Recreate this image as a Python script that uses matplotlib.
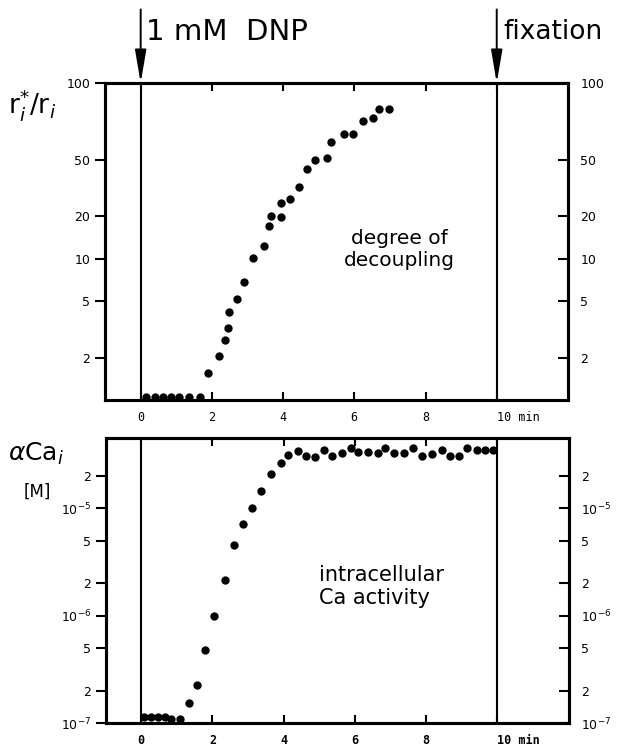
import numpy as np
import matplotlib
matplotlib.use("Agg")
import matplotlib.pyplot as plt
from matplotlib.ticker import FixedLocator, FixedFormatter

# ---------------- data ----------------
# degree of decoupling (ri*/ri) vs time (min)
t_dec = [0.16, 0.39, 0.62, 0.85, 1.09, 1.37, 1.68, 1.88, 2.21, 2.37, 2.44, 2.47,
         2.70, 2.90, 3.16, 3.47, 3.60, 3.67, 3.93, 3.95, 4.19, 4.46, 4.66, 4.91,
         5.22, 5.35, 5.70, 5.96, 6.24, 6.52, 6.69, 6.97]
r_dec = [1.05, 1.05, 1.05, 1.05, 1.05, 1.05, 1.05, 1.56, 2.05, 2.66, 3.25, 4.2,
         5.2, 6.8, 10.1, 12.3, 17.0, 20.0, 19.8, 24.8, 26.4, 32.0, 43.0, 50.0,
         51.0, 58.7, 63.0, 63.0, 71.0, 73.0, 79.0, 79.0]

# intracellular Ca activity (M) vs time (min)
t_ca = [0.09, 0.28, 0.47, 0.66, 0.83, 1.08, 1.33, 1.57, 1.79, 2.04, 2.35, 2.61,
        2.86, 3.12, 3.36, 3.63, 3.91, 4.13, 4.40, 4.64, 4.88, 5.13, 5.37, 5.63,
        5.88, 6.10, 6.36, 6.66, 6.85, 7.11, 7.38, 7.62, 7.88, 8.16, 8.44, 8.67,
        8.93, 9.14, 9.42, 9.65, 9.87]
ca = [1.14e-7, 1.14e-7, 1.14e-7, 1.14e-7, 1.1e-7, 1.1e-7, 1.54e-7, 2.25e-7,
      4.8e-7, 9.9e-7, 2.14e-6, 4.55e-6, 7.1e-6, 1.0e-5, 1.46e-5, 2.06e-5,
      2.63e-5, 3.10e-5, 3.43e-5, 3.03e-5, 2.99e-5, 3.5e-5, 3.08e-5, 3.26e-5,
      3.63e-5, 3.3e-5, 3.3e-5, 3.26e-5, 3.63e-5, 3.26e-5, 3.26e-5, 3.63e-5,
      3.08e-5, 3.2e-5, 3.5e-5, 3.08e-5, 3.08e-5, 3.6e-5, 3.5e-5, 3.5e-5, 3.5e-5]

x_ticks = [0, 2, 4, 6, 8, 10]
x_ticklabels = ["0", "2", "4", "6", "8", "10 min"]
top_yticks = [2, 5, 10, 20, 50, 100]
top_yticklabels = ["2", "5", "10", "20", "50", "100"]
bot_yticks = [1e-7, 2e-7, 5e-7, 1e-6, 2e-6, 5e-6, 1e-5, 2e-5]
bot_yticklabels = [r"$10^{-7}$", "2", "5", r"$10^{-6}$", "2", "5", r"$10^{-5}$", "2"]

# ---------------- figure ----------------
fig = plt.figure(figsize=(6.18, 7.48), dpi=100)
ax1 = fig.add_axes([0.170, 0.465, 0.749, 0.424])
ax2 = fig.add_axes([0.171, 0.0334, 0.749, 0.381])

# axis scale of the upper panel (log, with the 50-100 decade stretched as in the original)
_kn_log = [0.0, np.log10(50), 2.0]
_kn_pos = [0.0, 0.758, 1.0]

def _fwd(y):
    y = np.asarray(y, dtype=float)
    return np.interp(np.log10(np.maximum(y, 1e-12)), _kn_log, _kn_pos)

def _inv(v):
    v = np.asarray(v, dtype=float)
    return 10 ** np.interp(v, _kn_pos, _kn_log)

def set_top_scale(a):
    a.set_yscale("function", functions=(_fwd, _inv))
    a.set_ylim(1, 100)

def set_bot_scale(a):
    a.set_yscale("log")
    a.set_ylim(1e-7, 4.5e-5)

for ax, yt, ytl, scl, xw in ((ax1, top_yticks, top_yticklabels, set_top_scale, "normal"),
                             (ax2, bot_yticks, bot_yticklabels, set_bot_scale, "bold")):
    scl(ax)
    ax.set_xlim(-1.0, 12.0)
    for s in ax.spines.values():
        s.set_linewidth(2.2)
    ax.axvline(0, color="k", lw=1.5, zorder=1)
    ax.axvline(10, color="k", lw=1.5, zorder=1)
    ax.set_xticks(x_ticks)
    ax.set_xticklabels(x_ticklabels, family="DejaVu Sans Mono", fontsize=8.5,
                       weight=xw)
    ax.tick_params(axis="x", direction="in", top=True, bottom=True,
                   length=6, width=1.5, pad=8)
    lab = ax.get_xticklabels()[-1]
    lab.set_ha("left")
    lab.set_x(9.85)
    ax.yaxis.set_major_locator(FixedLocator(yt))
    ax.yaxis.set_major_formatter(FixedFormatter(ytl))
    ax.yaxis.set_minor_locator(FixedLocator([]))
    ax.tick_params(axis="y", which="both", left=True, right=False,
                   length=7, width=1.5, direction="out", labelsize=9)
    tw = ax.twinx()
    scl(tw)
    tw.yaxis.set_major_locator(FixedLocator(yt))
    tw.yaxis.set_major_formatter(FixedFormatter(ytl))
    tw.yaxis.set_minor_locator(FixedLocator([]))
    tw.tick_params(axis="y", which="both", direction="in", length=7,
                   width=1.5, labelsize=9, pad=9)
    for s in tw.spines.values():
        s.set_linewidth(2.2)

# data
ax1.plot(t_dec, r_dec, "o", color="k", ms=6, mec="none", clip_on=False, zorder=3)
ax2.plot(t_ca, ca, "o", color="k", ms=6, mec="none", clip_on=False, zorder=3)

# annotations inside panels
ax1.text(0.635, 0.476, "degree of\ndecoupling", transform=ax1.transAxes,
         ha="center", va="center", fontsize=14.5, linespacing=1.2)
ax2.text(0.46, 0.48, "intracellular\nCa activity", transform=ax2.transAxes,
         ha="left", va="center", fontsize=15, linespacing=1.2)

# arrows above the top panel
for xv in (0, 10):
    ax1.annotate("", xy=(xv, 1.0), xytext=(xv, 1.232),
                 xycoords=("data", "axes fraction"),
                 textcoords=("data", "axes fraction"),
                 arrowprops=dict(arrowstyle="-|>,head_length=1.0,head_width=0.17",
                                 mutation_scale=20, color="k", lw=1.4,
                                 shrinkA=0, shrinkB=0),
                 annotation_clip=False)

fig.text(0.236, 0.957, "1 mM  DNP", fontsize=21, ha="left", va="center")
fig.text(0.815, 0.957, "fixation", fontsize=19, ha="left", va="center")

# axis labels
fig.text(0.052, 0.860, r"r$_i^{*}$/r$_i$", fontsize=19, ha="center", va="center")
fig.text(0.058, 0.393, r"$\alpha$Ca$_i$", fontsize=18, ha="center", va="center")
fig.text(0.060, 0.343, "[M]", fontsize=12, ha="center", va="center")

fig.savefig("out.png", dpi=100, facecolor="white")
